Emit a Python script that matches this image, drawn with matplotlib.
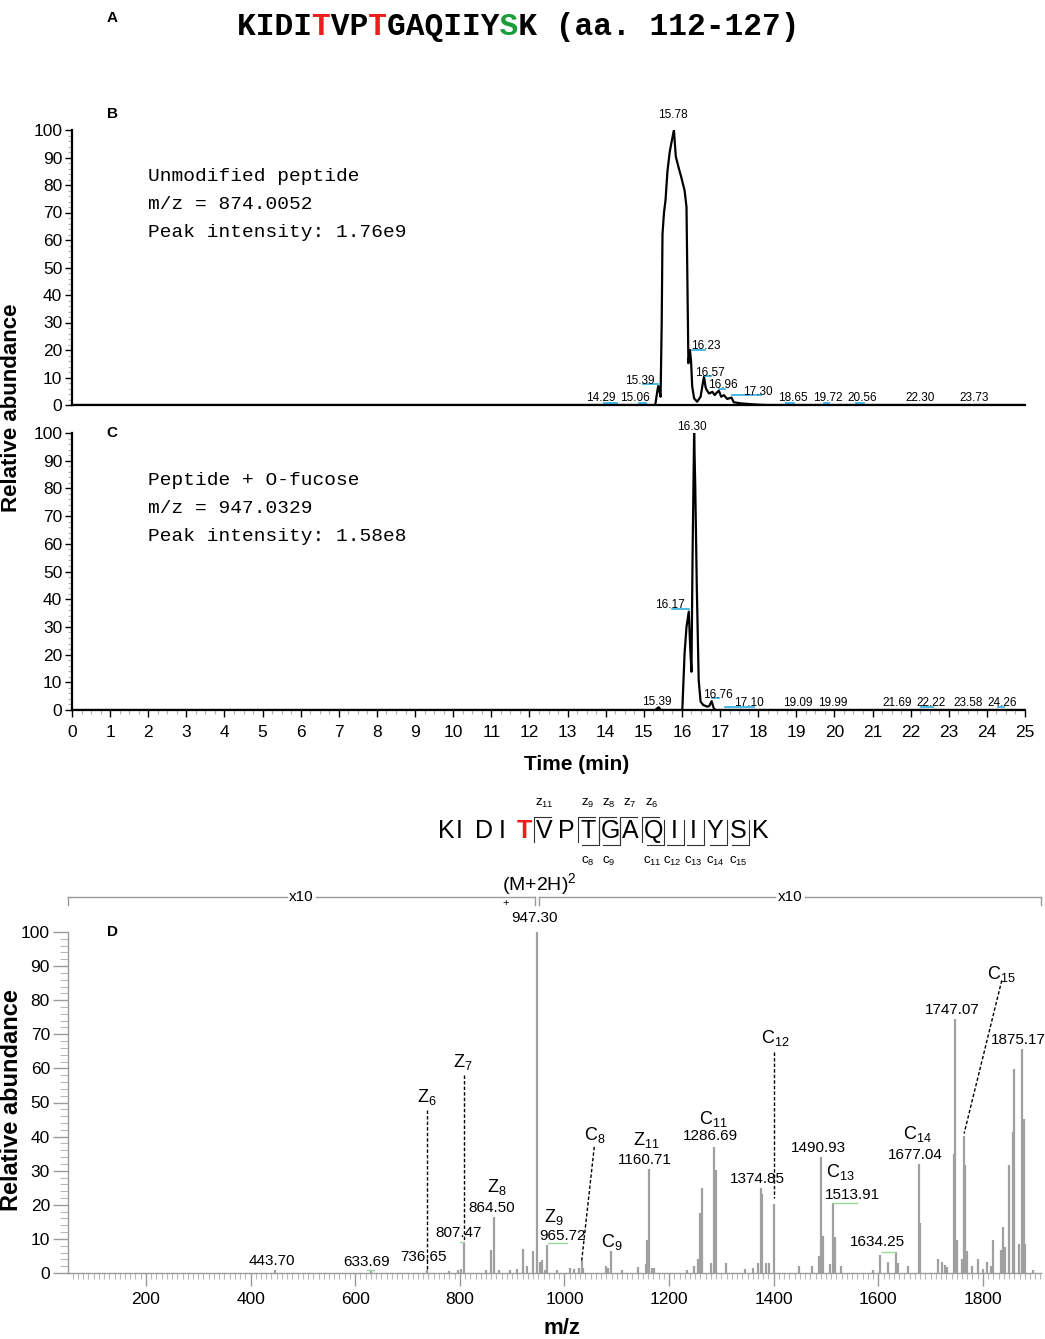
import numpy as np
import matplotlib.pyplot as plt
from matplotlib.ticker import MultipleLocator
import matplotlib.transforms as mtransforms

plt.rcParams['font.family'] = ['Liberation Sans', 'DejaVu Sans']
plt.rcParams['mathtext.fontset'] = 'custom'
plt.rcParams['mathtext.rm'] = 'Liberation Sans'
plt.rcParams['mathtext.it'] = 'Liberation Sans:italic'

# ---------------- data ----------------
title_seq = "KIDITVPTGAQIIYSK (aa. 112-127)"
red_idx = [4, 7]
green_idx = [14]

# panel B : extracted ion chromatogram, unmodified peptide
time_b = [0, 15.30, 15.36, 15.38, 15.42, 15.44, 15.47, 15.49, 15.53, 15.57, 15.62, 15.68,
          15.72, 15.79, 15.84, 15.92, 15.98, 16.07, 16.12, 16.17, 16.21, 16.24, 16.27,
          16.32, 16.40, 16.49, 16.55, 16.58, 16.62, 16.65, 16.71, 16.76, 16.80, 16.86,
          16.92, 16.97, 17.03, 17.10, 17.19, 17.30, 17.36, 17.54, 17.90, 18.20, 25]
inten_b = [0, 0, 5.5, 6.9, 4.5, 3.0, 30, 62, 70, 74.5, 85, 92,
           95, 100, 90.3, 86, 83, 78, 72, 15.2, 20, 16, 6.7,
           2.4, 1.2, 3.0, 8, 10.3, 6.5, 5.5, 4.2, 4.5, 4.8, 3.6,
           4.6, 5.2, 3.0, 3.6, 2.2, 2.7, 1.0, 0.6, 0.2, 0, 0]
rt_labels_b = ["14.29", "15.06", "15.39", "15.78", "16.23", "16.57", "16.96", "17.30",
               "18.65", "19.72", "20.56", "22.30", "23.73"]
info_b = ["Unmodified peptide", "m/z = 874.0052", "Peak intensity: 1.76e9"]

# panel C : peptide + O-fucose
time_c = [0, 15.30, 15.39, 15.45, 16.01, 16.07, 16.12, 16.18, 16.22, 16.25, 16.28, 16.32,
          16.35, 16.39, 16.44, 16.49, 16.56, 16.67, 16.72, 16.78, 16.84, 16.90, 25]
inten_c = [0, 0, 1.0, 0, 0, 20.5, 30, 35.5, 22, 13.8, 56.6, 100,
           80.6, 44.5, 10.8, 3.0, 1.8, 1.2, 1.5, 3.2, 0.4, 0, 0]
rt_labels_c = ["15.39", "16.17", "16.30", "16.76", "17.10", "19.09", "19.99", "21.69",
               "22.22", "23.58", "24.26"]
info_c = ["Peptide + O-fucose", "m/z = 947.0329", "Peak intensity: 1.58e8"]

# panel D : ETD spectrum
mz = [446.7, 631, 736.65, 780, 796, 802, 807.47, 850, 860, 864.50, 874, 895, 910, 920,
      928, 940, 947.30, 953, 957, 962, 965.72, 985, 1010, 1018, 1027, 1033, 1036, 1080,
      1083, 1089, 1110, 1140, 1155, 1158, 1160.71, 1167, 1172, 1235, 1248, 1256, 1260,
      1262.5, 1281, 1286.69, 1289, 1309, 1345, 1360, 1370, 1374.85, 1377.5, 1385, 1391,
      1401.5, 1448, 1473, 1486, 1490.93, 1493.5, 1508, 1513.91, 1516.5, 1529, 1590,
      1603, 1619, 1634.25, 1637, 1656, 1677.04, 1679.5, 1715, 1721, 1727, 1732, 1744,
      1747.07, 1750, 1760, 1763, 1766, 1770, 1780, 1790, 1800, 1807, 1815, 1820, 1835,
      1839, 1842, 1850, 1857, 1860, 1868, 1875.17, 1878, 1881, 1895]
ab = [1.0, 0.8, 1.0, 0.6, 1.0, 1.2, 8.7, 1.0, 6.8, 16.5, 1.0, 1.0, 1.2, 6.9,
      2.0, 6.5, 100, 3.3, 3.8, 1.0, 8.2, 1.0, 1.5, 1.2, 1.5, 3.6, 1.5, 2.0,
      1.5, 6.5, 1.0, 1.8, 2.5, 9.6, 30.4, 1.5, 1.5, 1.0, 2.0, 4.0, 17.5,
      24.8, 3.0, 37.0, 30.2, 3.0, 1.2, 1.5, 3.0, 24.8, 23.3, 3.0, 3.0,
      20.2, 2.0, 2.0, 5.0, 34.1, 10.8, 2.5, 20.4, 10.5, 2.0, 1.0,
      5.3, 3.3, 6.2, 3.0, 2.0, 32.1, 14.6, 4.1, 3.1, 2.2, 1.7, 35.0,
      74.6, 9.6, 4.1, 40.1, 31.6, 6.5, 2.0, 4.1, 1.2, 3.1, 2.0, 9.6, 6.6,
      13.5, 7.5, 31.6, 41.4, 59.9, 8.6, 65.7, 45.3, 8.6, 1.0]
labeled_mz = ["443.70", "633.69", "736.65", "807.47", "864.50", "947.30", "965.72",
              "1160.71", "1286.69", "1374.85", "1490.93", "1513.91", "1634.25",
              "1677.04", "1747.07", "1875.17"]
ion_names = ["Z6", "Z7", "Z8", "Z9", "C8", "C9", "Z11", "C11", "C12", "C13", "C14", "C15"]

peptide = "KIDITVPTGAQIIYSK"
z_ions = [11, 9, 8, 7, 6]
c_ions = [8, 9, 11, 12, 13, 14, 15]

# ---------------- layout ----------------
W, H = 1045, 1339
fig = plt.figure(figsize=(W / 100, H / 100), dpi=100)


def fbox(x0, x1, ytop, ybot):
    return [x0 / W, 1 - ybot / H, (x1 - x0) / W, (ybot - ytop) / H]


ax_b = fig.add_axes(fbox(72, 1025, 130, 405))
ax_c = fig.add_axes(fbox(72, 1025, 433, 710))
ax_d = fig.add_axes(fbox(68, 1041, 932, 1273))

blue = '#29abe2'
sgray = '#9a9a9a'


def style_chrom(ax, show_x):
    ax.set_xlim(0, 25)
    ax.set_ylim(0, 100)
    for s in ['top', 'right']:
        ax.spines[s].set_visible(False)
    for s in ['left', 'bottom']:
        ax.spines[s].set_linewidth(1.6)
    ax.yaxis.set_major_locator(MultipleLocator(10))
    ax.yaxis.set_minor_locator(MultipleLocator(2))
    ax.tick_params(axis='y', which='major', length=5, width=1, labelsize=12.5, pad=2)
    ax.tick_params(axis='y', which='minor', length=3, width=0.8, color='#b0b0b0')
    if show_x:
        ax.xaxis.set_major_locator(MultipleLocator(1))
        ax.xaxis.set_minor_locator(MultipleLocator(0.25))
        ax.tick_params(axis='x', which='major', length=5, width=1, labelsize=12.5, pad=6)
        ax.tick_params(axis='x', which='minor', length=3, width=0.8, color='#b0b0b0')
    else:
        ax.tick_params(axis='x', which='both', length=0, labelbottom=False)


style_chrom(ax_b, False)
style_chrom(ax_c, True)

ax_b.plot(time_b, inten_b, color='black', lw=1.6)
ax_c.plot(time_c, inten_c, color='black', lw=1.6)

# retention-time labels: (x, y) text centre, optional blue underline (t0, t1, y)
pos_b = [(13.88, 2.7), (14.78, 2.7), (14.90, 8.7), (15.75, 105.5), (16.62, 21.5),
         (16.74, 11.7), (17.07, 7.3), (17.98, 4.8), (18.90, 2.7), (19.82, 2.7),
         (20.72, 2.7), (22.24, 2.7), (23.67, 2.7)]
line_b = [(13.95, 14.30, 0.8), (14.87, 15.05, 0.8), (14.99, 15.38, 7.5), None,
          (16.26, 16.60, 20), (16.60, 16.75, 10.5), (16.97, 17.12, 5.7),
          (17.32, 18.07, 3.6), (18.72, 18.94, 0.8), (19.73, 19.86, 0.8),
          (20.56, 20.78, 0.8), None, None]
pos_c = [(15.35, 3.0), (15.69, 37.9), (16.25, 102.3), (16.95, 5.4), (17.76, 2.4),
         (19.03, 2.4), (19.95, 2.4), (21.66, 2.4), (22.53, 2.4), (23.51, 2.4), (24.41, 2.4)]
line_c = [None, (15.75, 16.18, 36.3), None, (16.80, 16.97, 4.2), (17.13, 17.89, 1.2),
          None, None, None, (22.27, 22.58, 1.2), None, (24.28, 24.46, 1.2)]

for ax, labs, pos, lines in [(ax_b, rt_labels_b, pos_b, line_b),
                             (ax_c, rt_labels_c, pos_c, line_c)]:
    for lab, (x, y), ln in zip(labs, pos, lines):
        if ln is not None:
            ax.plot([ln[0], ln[1]], [ln[2], ln[2]], color=blue, lw=1.2, clip_on=False)
        ax.text(x, y, lab, fontsize=8.5, ha='center', va='center', clip_on=False)

for ax, info in [(ax_b, info_b), (ax_c, info_c)]:
    for i, line in enumerate(info):
        ax.text(2.0, 83 - i * 10.1, line, family='Liberation Mono', fontsize=14,
                ha='left', va='center')

# ---- panel D ----
ax_d.set_xlim(51, 1911)
ax_d.set_ylim(0, 100)
for s in ['top', 'right']:
    ax_d.spines[s].set_visible(False)
for s in ['left', 'bottom']:
    ax_d.spines[s].set_color(sgray)
    ax_d.spines[s].set_linewidth(1.0)
ax_d.yaxis.set_major_locator(MultipleLocator(10))
ax_d.yaxis.set_minor_locator(MultipleLocator(2))
ax_d.xaxis.set_major_locator(MultipleLocator(200))
ax_d.xaxis.set_minor_locator(MultipleLocator(10))
ax_d.tick_params(axis='y', which='major', length=11, width=1, color=sgray, labelsize=12.5, pad=2)
ax_d.tick_params(axis='y', which='minor', length=6, width=0.8, color='#b8b8b8')
ax_d.tick_params(axis='x', which='major', length=9, width=1, color=sgray, labelsize=12.5, pad=5)
ax_d.tick_params(axis='x', which='minor', length=4, width=0.8, color='#b8b8b8')
ax_d.set_xticks([200, 400, 600, 800, 1000, 1200, 1400, 1600, 1800])

ax_d.vlines(mz, 0, ab, color='#a0a0a0', lw=1.6)

# peak m/z labels (text centre positions)
pos_mz = [(440, 3.6), (621, 3.2), (731, 4.6), (797, 11.8), (860, 19.2), (942, 104),
          (997, 10.9), (1154, 33.2), (1280, 40.1), (1369, 27.6), (1486, 36.6),
          (1550, 23.0), (1598, 9.0), (1670, 34.7), (1742, 77.2), (1868, 68.4)]
for lab, (x, y) in zip(labeled_mz, pos_mz):
    ax_d.text(x, y, lab, fontsize=11, ha='center', va='center', clip_on=False)

green = '#9bd89b'
for x0, x1, y in [(968, 1004, 8.8), (1514, 1560, 20.6), (1607, 1634, 6.3),
                  (800, 808, 9.2), (622, 636, 0.9)]:
    ax_d.plot([x0, x1], [y, y], color=green, lw=1.0)

# fragment ion labels and dashed connectors
pos_ion = [(737, 51.6), (805, 61.8), (870, 25.3), (979, 16.5), (1058, 40.4), (1090, 9.2),
           (1157, 39.0), (1284, 45.3), (1403, 68.8), (1527, 29.7), (1675, 40.9), (1836, 87.8)]
for name, (x, y) in zip(ion_names, pos_ion):
    ax_d.text(x, y, name[0] + '$_{' + name[1:] + '}$', fontsize=13, ha='center',
              va='center', clip_on=False)
dashes = [((736.65, 47.8), (736.65, 1.0)), ((807.47, 58.0), (807.47, 9.5)),
          ((1057, 37.0), (1033, 3.6)), ((1401.5, 64.8), (1401.5, 21.9)),
          ((1836, 85.8), (1764, 40.9))]
for (x0, y0), (x1, y1) in dashes:
    ax_d.plot([x0, x1], [y0, y1], color='black', lw=1.0, ls=(0, (2.5, 1.5)))

# x10 zoom brackets above the spectrum
trans = mtransforms.blended_transform_factory(ax_d.transData, ax_d.transAxes)
yb = 1.103
for x0, x1 in [(51, 944), (951, 1911)]:
    xm = (x0 + x1) / 2
    ax_d.plot([x0, xm - 28], [yb, yb], color=sgray, lw=1.0, transform=trans, clip_on=False)
    ax_d.plot([xm + 28, x1], [yb, yb], color=sgray, lw=1.0, transform=trans, clip_on=False)
    for xe in (x0, x1):
        ax_d.plot([xe, xe], [yb, yb - 0.025], color=sgray, lw=1.0, transform=trans,
                  clip_on=False)
    ax_d.text(xm, yb, 'x10', fontsize=11, ha='center', va='center', transform=trans)
ax_d.text(880, 1.14, '(M+2H)$^{2}$', fontsize=14, ha='left', va='center', transform=trans)
ax_d.text(888, 1.085, '+', fontsize=8, ha='center', va='center', transform=trans)

# ---------------- figure-level text (pixel coordinates) ----------------
ov = fig.add_axes([0, 0, 1, 1])
ov.set_xlim(0, W)
ov.set_ylim(H, 0)
ov.axis('off')
ov.patch.set_alpha(0)

black_s = ''.join(' ' if i in red_idx + green_idx else ch for i, ch in enumerate(title_seq))
red_s = ''.join(ch if i in red_idx else ' ' for i, ch in enumerate(title_seq))
green_s = ''.join(ch if i in green_idx else ' ' for i, ch in enumerate(title_seq))
for s, col in [(black_s, 'black'), (red_s, '#ee1c1c'), (green_s, '#1a9e3a')]:
    ov.text(237, 27, s, family='Liberation Mono', fontsize=22.5, fontweight='bold',
            color=col, ha='left', va='center')

for lab, y in [('A', 18), ('B', 114), ('C', 433), ('D', 932)]:
    ov.text(112, y, lab, fontsize=11, fontweight='bold', ha='center', va='center')

ov.text(12, 408, 'Relative abundance', rotation=90, fontsize=16, fontweight='bold',
        ha='center', va='center')
ov.text(12, 1100, 'Relative abundance', rotation=90, fontsize=17, fontweight='bold',
        ha='center', va='center')
ov.text(577, 765, 'Time (min)', fontsize=15, fontweight='bold', ha='center', va='center')
ov.text(562, 1328, 'm/z', fontsize=16, fontweight='bold', ha='center', va='center')

# peptide fragmentation map
res_x = [446.7, 459.3, 484, 501.7, 524.3, 544.3, 566.7, 588.3, 610, 630, 653.3, 674.3,
         692.7, 715, 738.3, 760]
res_y = 831
for i, (aa, x) in enumerate(zip(peptide, res_x)):
    if i == 4:
        ov.text(x, res_y, aa, fontsize=18, fontweight='bold', color='#ee1c1c',
                ha='center', va='center')
    else:
        ov.text(x, res_y, aa, fontsize=18, ha='center', va='center')

top, bot = 817, 845
n = len(peptide)
for k in z_ions:
    j = n - k
    xb = (res_x[j - 1] + res_x[j]) / 2
    ov.plot([xb, xb, xb + 17], [bot - 3, top, top], color='#333333', lw=0.8)
    ov.text(xb + 10, 803, 'z$_{' + str(k) + '}$', fontsize=9.5, ha='center', va='center')
for k in c_ions:
    xb = (res_x[k - 1] + res_x[k]) / 2
    ov.plot([xb, xb, xb - 17], [top + 3, bot, bot], color='#333333', lw=0.8)
    ov.text(xb - 11, 861, 'c$_{' + str(k) + '}$', fontsize=9.5, ha='center', va='center')

fig.savefig('out.png', dpi=100)
